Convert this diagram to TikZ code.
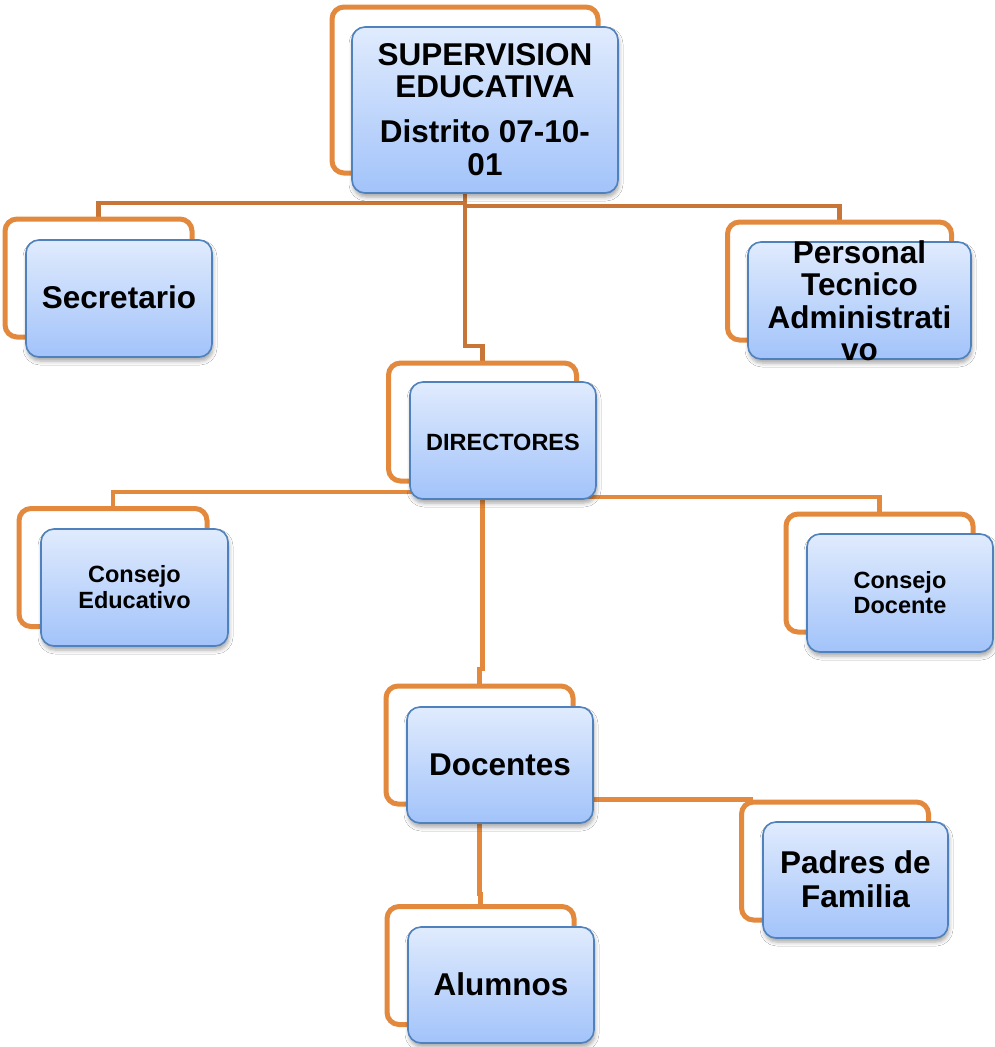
\documentclass[tikz,border=0pt]{standalone}
\usepackage{fontspec}
\setmainfont{Liberation Sans}
\usetikzlibrary{shadows.blur,backgrounds,calc}
\definecolor{boxorange}{RGB}{226,137,62}
\definecolor{connbrown}{RGB}{199,118,56}
\definecolor{boxborder}{RGB}{79,129,189}
\definecolor{boxtop}{RGB}{224,235,253}
\definecolor{boxbot}{RGB}{162,195,250}
\newcommand\myBig{\fontsize{31.5}{32}\selectfont\bfseries}
\newcommand\mySmall{\fontsize{23.5}{25}\selectfont\bfseries}
\begin{document}
\begin{tikzpicture}[x=1pt,y=-1pt,
  backbox/.style={draw=boxorange, line width=5pt, rounded corners=12pt, inner sep=0pt},
  frontbox/.style={draw=boxborder, line width=1.6pt, rounded corners=13pt,
    top color=boxtop, bottom color=boxbot, inner sep=0pt,
    blur shadow={shadow xshift=1pt, shadow yshift=-4pt, shadow blur radius=4pt, shadow opacity=35}},
  connA/.style={draw=connbrown, line width=4.5pt},
  connB/.style={draw=boxorange, line width=4.5pt},
  bt/.style={font=\myBig, anchor=base, inner sep=0pt},
  st/.style={font=\mySmall, anchor=base, inner sep=0pt}]
\useasboundingbox (0,0) rectangle (995,1047);

% back (orange) frames
\node[backbox, minimum width=266pt, minimum height=166pt] (supB) at (465,90) {};
\node[backbox, minimum width=187pt, minimum height=118pt] (secB) at (98.5,278) {};
\node[backbox, minimum width=224pt, minimum height=118pt] (perB) at (839.5,281) {};
\node[backbox, minimum width=188pt, minimum height=118pt] (dirB) at (482.5,422) {};
\node[backbox, minimum width=188pt, minimum height=118pt] (ceB) at (113,567.5) {};
\node[backbox, minimum width=187pt, minimum height=118pt] (cdB) at (879.5,573) {};
\node[backbox, minimum width=187pt, minimum height=118pt] (docB) at (479.5,745) {};
\node[backbox, minimum width=187pt, minimum height=118pt] (padB) at (835,861) {};
\node[backbox, minimum width=187pt, minimum height=118pt] (aluB) at (480.5,965.5) {};

% front (blue) boxes
\node[frontbox, minimum width=266pt, minimum height=166pt] (sup) at (485,110) {};
\node[frontbox, minimum width=186pt, minimum height=117pt] (sec) at (119,298.5) {};
\node[frontbox, minimum width=223pt, minimum height=117pt] (per) at (859.5,300.5) {};
\node[frontbox, minimum width=186pt, minimum height=117pt] (dir) at (503,440.5) {};
\node[frontbox, minimum width=187pt, minimum height=117pt] (ce) at (134.5,587.5) {};
\node[frontbox, minimum width=186pt, minimum height=118pt] (cd) at (900,593) {};
\node[frontbox, minimum width=186pt, minimum height=116pt] (doc) at (500,765) {};
\node[frontbox, minimum width=185pt, minimum height=116pt] (pad) at (855.5,880) {};
\node[frontbox, minimum width=186pt, minimum height=116pt] (alu) at (501,985) {};

% texts
\node[bt] (t1a) at (485,65) {SUPERVISION};
\node[bt] (t1b) at (485,97) {EDUCATIVA};
\node[bt] (t1c) at (485,142) {Distrito 07-10-};
\node[bt] (t1d) at (485,175) {01};
\node[bt] (t2) at (119,308) {Secretario};
\node[bt] (t3a) at (859.5,263) {Personal};
\node[bt] (t3b) at (859.5,295) {Tecnico};
\node[bt] (t3c) at (859.5,328) {Administrati};
\node[bt] (t3d) at (859.5,360) {vo};
\node[st] (t4) at (503,450) {DIRECTORES};
\node[st] (t5a) at (134.5,582) {Consejo};
\node[st] (t5b) at (134.5,608) {Educativo};
\node[st] (t6a) at (900,588) {Consejo};
\node[st] (t6b) at (900,613) {Docente};
\node[bt] (t7) at (500,775) {Docentes};
\node[bt] (t8a) at (855.5,873) {Padres de};
\node[bt] (t8b) at (855.5,907) {Familia};
\node[bt] (t9) at (501,995) {Alumnos};

% connectors
\begin{scope}[on background layer]
\fill[white] (0,0) rectangle (995,1047);
\draw[connA] (supB.south |- sup.south) -- ($(supB.south |- sup.south)+(0,152)$) -| (dirB.north);
\draw[connA] ($(supB.south |- sup.south)+(0,9)$) -| (secB.north);
\draw[connA] ($(supB.south |- sup.south)+(0,12)$) -| (perB.north);
\draw[connB] ($(dirB.north |- dir.south)+(0,-8)$) -| (ceB.north);
\draw[connB] ($(dirB.north |- dir.south)+(0,-3)$) -| (cdB.north);
\draw[connB] (dirB.north |- dir.south) -- ++(0,169) -| (docB.north);
\draw[connB] (docB.north |- doc.south) -- ++(0,70) -| (aluB.north);
\draw[connB] (doc.east |- padB.north) -- ($(padB.north west)+(14,0)$);
\end{scope}
\end{tikzpicture}
\end{document}
